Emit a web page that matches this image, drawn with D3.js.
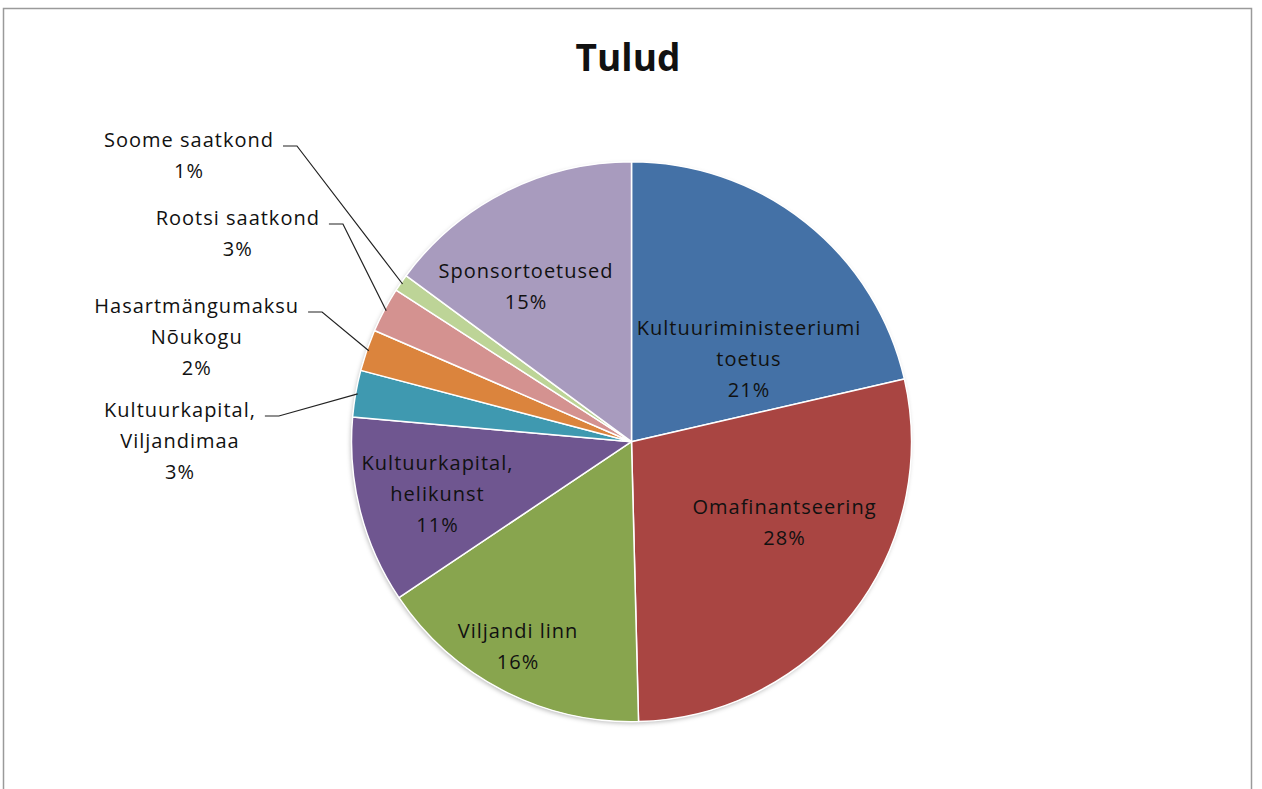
<!DOCTYPE html>
<html>
<head>
<meta charset="utf-8">
<script src="https://cdn.jsdelivr.net/npm/d3@7"></script>
<style>
  body { margin: 0; background: #fff; }
  text { font-family: "Open Sans", "DejaVu Sans", sans-serif; fill: #111; }
</style>
</head>
<body>
<div id="chart"></div>
<script>
'use strict';

// data
var categories = [
    'Kultuuriministeeriumi toetus',
    'Omafinantseering',
    'Viljandi linn',
    'Kultuurkapital, helikunst',
    'Kultuurkapital, Viljandimaa',
    'Hasartmängumaksu Nõukogu',
    'Rootsi saatkond',
    'Soome saatkond',
    'Sponsortoetused'
];
var labelLines = [
    ['Kultuuriministeeriumi', 'toetus'],
    ['Omafinantseering'],
    ['Viljandi linn'],
    ['Kultuurkapital,', 'helikunst'],
    ['Kultuurkapital,', 'Viljandimaa'],
    ['Hasartmängumaksu', 'Nõukogu'],
    ['Rootsi saatkond'],
    ['Soome saatkond'],
    ['Sponsortoetused']
];
var values = [21.4, 28.2, 16.0, 10.8, 2.7, 2.4, 2.6, 1.0, 14.9];
var colors = ['#4471A6', '#A94542', '#88A54E', '#6F5690', '#3F99B0', '#DB843D', '#D49290', '#BDD497', '#A89BBE'];

// layout
var width = 1262;
var height = 789;
var cx = 631.5;
var cy = 441.7;
var radius = 280;
var fontSize = 20;
var lineGap = 31;
// label anchor: centre x, first baseline y; outside = has leader line
var labelAt = [
    [749, 335, false],
    [784.5, 514, false],
    [518, 638, false],
    [437.5, 470, false],
    [180, 417, true],
    [196.7, 313, true],
    [237.8, 225, true],
    [189, 147, true],
    [526, 278, false]
];

var svg = d3.select('#chart').append('svg')
    .attr('width', width)
    .attr('height', height);

var defs = svg.append('defs');
var shadow = defs.append('filter')
    .attr('id', 'shadow')
    .attr('x', '-10%').attr('y', '-10%')
    .attr('width', '120%').attr('height', '120%');
shadow.append('feDropShadow')
    .attr('dx', -1).attr('dy', 2)
    .attr('stdDeviation', 2)
    .attr('flood-color', '#000')
    .attr('flood-opacity', 0.25);

svg.append('rect')
    .attr('x', 3.5)
    .attr('y', 8.5)
    .attr('width', 1248)
    .attr('height', 800)
    .attr('fill', '#fff')
    .attr('stroke', '#9a9a9a')
    .attr('stroke-width', 1.5);

svg.append('text')
    .attr('x', 628)
    .attr('y', 71)
    .attr('text-anchor', 'middle')
    .style('font-size', '37px')
    .style('font-weight', 'bold')
    .text('Tulud');

var pie = d3.pie().sort(null).value(function(d) { return d; });
var arcs = pie(values);
var total = d3.sum(values);

var arc = d3.arc().innerRadius(0).outerRadius(radius);
var edgeArc = d3.arc().innerRadius(radius - 2).outerRadius(radius - 2);

var g = svg.append('g')
    .attr('transform', 'translate(' + cx + ',' + cy + ')');

g.append('circle')
    .attr('r', radius)
    .attr('fill', '#fff')
    .attr('filter', 'url(#shadow)');

g.selectAll('path.slice')
    .data(arcs)
    .enter().append('path')
    .attr('class', 'slice')
    .attr('d', arc)
    .attr('fill', function(d, i) { return colors[i]; })
    .attr('stroke', '#fff')
    .attr('stroke-width', 1.5)
    .attr('stroke-linejoin', 'round');

var labels = svg.selectAll('g.label')
    .data(arcs)
    .enter().append('g')
    .attr('class', 'label');

labels.each(function(d, i) {
    var sel = d3.select(this);
    var pos = labelAt[i];
    var lines = labelLines[i].concat([Math.round(d.value / total * 100) + '%']);
    var t = sel.append('text')
        .attr('text-anchor', 'middle')
        .style('font-size', fontSize + 'px')
        .style('letter-spacing', '1px');
    lines.forEach(function(line, j) {
        t.append('tspan')
            .attr('x', pos[0])
            .attr('y', pos[1] + j * lineGap)
            .text(line);
    });

    if (pos[2]) {
        var firstW = t.select('tspan').node().getComputedTextLength();
        var x0 = pos[0] + firstW / 2 + 9;
        var y0 = pos[1] - 1;
        var end = edgeArc.centroid(d);
        sel.append('path')
            .attr('d', d3.line()([
                [x0, y0],
                [x0 + 14, y0],
                [cx + end[0], cy + end[1]]
            ]))
            .attr('fill', 'none')
            .attr('stroke', '#222')
            .attr('stroke-width', 1.2);
    }
});
</script>
</body>
</html>
